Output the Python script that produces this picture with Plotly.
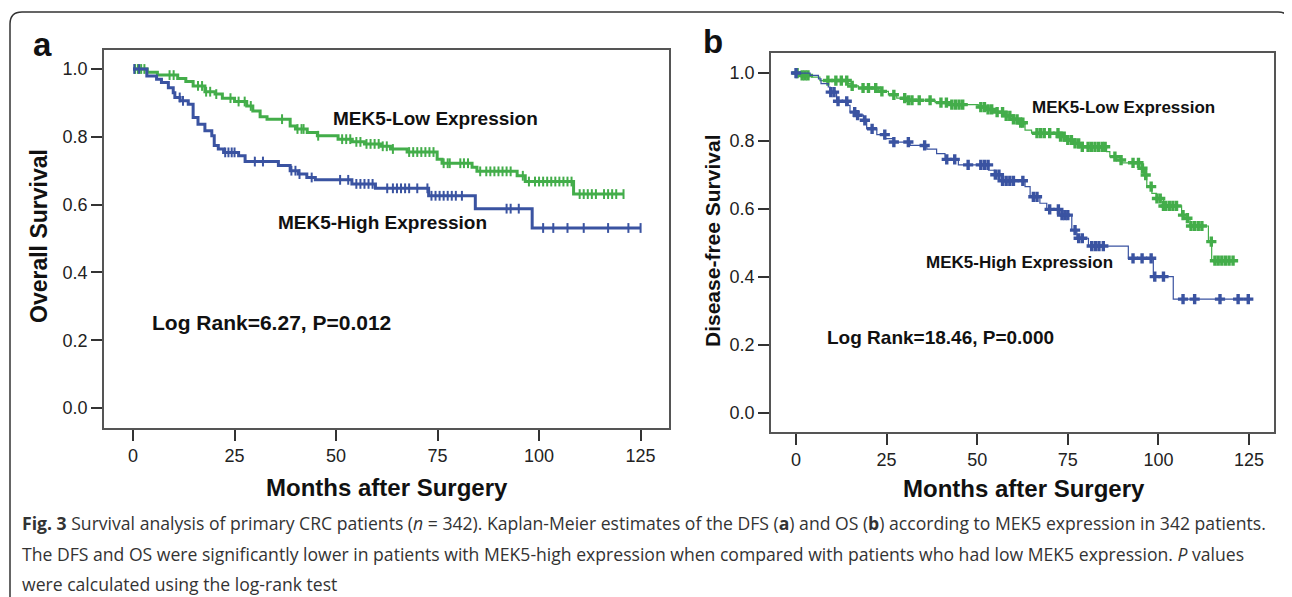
import numpy as np
import plotly.graph_objects as go

# ---------------- data ----------------
# Panel a: Overall survival
a_low_t = [0, 3.5, 6, 11, 13, 14.8, 17.7, 20.2, 22, 25, 28, 29.5, 31.3, 33, 38.7, 40, 42.9, 45.4,
           50.5, 54, 57, 61, 63.4, 67.5, 74.9, 76.1, 83.5, 84.7, 94.6, 96.6, 108.5]
a_low_s = [1.0, 0.99, 0.982, 0.972, 0.963, 0.95, 0.933, 0.926, 0.914, 0.904, 0.891, 0.876, 0.859, 0.852,
           0.832, 0.823, 0.813, 0.803, 0.793, 0.785, 0.779, 0.772, 0.764, 0.755, 0.734, 0.722, 0.71, 0.698,
           0.685, 0.668, 0.631]
a_low_c = [0.5, 1.2, 2, 2.8, 9, 10, 16, 17, 18, 19, 20.5, 24, 26, 27.5, 29, 36.7, 40.5, 41.5, 42, 45.6,
           51.5, 52.5, 53.5, 55, 56, 57.5, 58.5, 59.5, 60.5, 61.5, 62.5, 64, 68, 69, 70, 71, 72, 73, 74,
           76.5, 77.5, 78, 80.6, 81.5, 82.5, 85.5, 87, 88, 89, 90, 91, 92, 93, 96, 97.5, 99, 100, 101, 102,
           103, 104, 105, 106, 107, 108, 110, 111, 112, 113, 114, 116, 117, 118, 119, 120.8]

a_high_t = [0, 3.4, 5.8, 7, 8.7, 9.9, 10.3, 11.6, 13.6, 14.8, 16, 17.7, 19.4, 20, 21, 22.3, 26, 27.6,
            35.8, 38.7, 40.7, 42.8, 44.9, 53.9, 59.7, 72.8, 84.3, 98.3]
a_high_s = [1.0, 0.979, 0.97, 0.96, 0.945, 0.93, 0.916, 0.906, 0.896, 0.857, 0.837, 0.818, 0.803, 0.774,
            0.764, 0.754, 0.744, 0.727, 0.715, 0.70, 0.69, 0.68, 0.673, 0.661, 0.648, 0.626, 0.588, 0.531]
a_high_c = [0.3, 1.5, 11.5, 12.3, 22.7, 23.5, 24.3, 25, 30, 32, 39, 40, 41, 44, 51, 53, 55, 56, 57, 58,
            59, 62.6, 64, 65, 66, 67, 68, 70, 72.5, 73.5, 74.5, 75.5, 76.5, 77.5, 78.5, 79.5, 81, 92, 93,
            95, 101, 103.5, 107, 111, 117, 122, 125]

# Panel b: Disease-free survival
b_low_t = [0, 1.5, 4.3, 6.6, 14.4, 15.3, 17.2, 22.7, 25.5, 27.8, 30.1, 38.4, 42, 50.3, 52.1, 54.9,
           57.5, 60, 61.8, 63.2, 65, 72.4, 74.7, 76.6, 78.8, 85.7, 86.6, 88.5, 89.9, 94.9, 95.8, 96.8,
           98.2, 99.5, 101.4, 106.4, 107.8, 108.7, 113.8, 114.7]
b_low_s = [1.0, 0.993, 0.988, 0.978, 0.969, 0.962, 0.956, 0.946, 0.936, 0.926, 0.92, 0.913, 0.907, 0.9,
           0.893, 0.885, 0.874, 0.864, 0.854, 0.832, 0.823, 0.813, 0.803, 0.793, 0.783, 0.769, 0.754,
           0.744, 0.736, 0.72, 0.70, 0.666, 0.646, 0.631, 0.609, 0.582, 0.573, 0.55, 0.504, 0.448]
b_low_c = [0.3, 1.7, 2.5, 3.3, 8.8, 11, 12.5, 14, 15.5, 18.5, 20, 22, 23.7, 27, 30, 31, 32, 34, 37, 40,
           41.5, 43, 44, 45, 46, 51, 52, 53, 54, 55.5, 57, 58, 59, 60, 61, 62, 62.6, 66.5, 67.5, 68.5,
           70, 72.3, 73, 74, 75, 76, 77, 78, 79, 80.6, 81.5, 82.5, 83.5, 84.5, 85.3, 88, 89.7, 93, 94.5,
           95.6, 96.5, 98, 99.6, 100.5, 101.4, 102, 103, 104, 105, 106.8, 108, 109, 110, 111, 112,
           114.6, 115.6, 116.5, 117.5, 118.5, 119.5, 120.6]

b_high_t = [0, 3.9, 6.2, 6.9, 8.9, 9.4, 11.2, 14.4, 14.9, 16.3, 18.6, 19.5, 22.3, 24.6, 26.9, 31.5,
            36.1, 38.8, 41.1, 44.8, 53.1, 54.9, 56.8, 63.2, 64.6, 67.3, 69.2, 72.8, 76.1, 77.5, 80.7,
            91.7, 98.6, 104.1]
b_high_s = [1.0, 0.993, 0.983, 0.969, 0.959, 0.944, 0.917, 0.905, 0.885, 0.876, 0.861, 0.836, 0.819,
            0.807, 0.797, 0.787, 0.776, 0.763, 0.746, 0.73, 0.714, 0.701, 0.683, 0.666, 0.636, 0.617,
            0.599, 0.582, 0.538, 0.514, 0.491, 0.455, 0.401, 0.335]
b_high_c = [0, 9.6, 10.5, 11.6, 14, 16.2, 17, 19, 21, 24.5, 27, 31, 35.5, 41.6, 43.8, 47.5, 51, 52, 53,
            55, 56, 57, 58, 59, 60, 62.6, 65.5, 66.5, 70, 72.4, 73.4, 74.2, 75, 77, 78, 79, 81.6, 82.6,
            83.6, 84.8, 93, 95.5, 98, 99, 101.4, 106.8, 110, 117, 122, 124.8]

x_ticks = [0, 25, 50, 75, 100, 125]
y_ticks = [0.0, 0.2, 0.4, 0.6, 0.8, 1.0]
y_tick_labels = ["0.0", "0.2", "0.4", "0.6", "0.8", "1.0"]

GREEN = "#43ad4a"
BLUE = "#3a53a1"
OFF = 8                      # page body margin of the browser
W, H = 1292 - OFF, 597 - OFF


def px(x):
    return (x - OFF) / W


def py(y):
    return 1 - (y - OFF) / H


def step_value(t, s, c):
    t = np.asarray(t, float)
    s = np.asarray(s, float)
    idx = np.searchsorted(t, np.asarray(c, float), side="right") - 1
    return s[np.clip(idx, 0, len(s) - 1)]


fig = go.Figure()


def add_curve(t, s, c, color, xa, ya, lw, msym, msize, mline):
    end = max(max(c), t[-1])
    fig.add_trace(go.Scatter(x=list(t) + [end], y=list(s) + [s[-1]], mode="lines",
                             line=dict(color=color, width=lw, shape="hv"),
                             xaxis=xa, yaxis=ya, hoverinfo="skip"))
    fig.add_trace(go.Scatter(x=c, y=step_value(t, s, c), mode="markers",
                             marker=dict(symbol=msym, size=msize, color=color,
                                         line=dict(color=color, width=mline)),
                             xaxis=xa, yaxis=ya, hoverinfo="skip"))


add_curve(a_low_t, a_low_s, a_low_c, GREEN, "x", "y", 3, "line-ns", 7, 2)
add_curve(a_high_t, a_high_s, a_high_c, BLUE, "x", "y", 3, "line-ns", 7, 2)
add_curve(b_low_t, b_low_s, b_low_c, GREEN, "x2", "y2", 1.2, "cross", 8.5, 0)
add_curve(b_high_t, b_high_s, b_high_c, BLUE, "x2", "y2", 1.2, "cross", 8.5, 0)

TICKFONT = dict(family="Liberation Sans, Arial", size=18, color="#222")
axis_common = dict(showline=True, mirror=True, linecolor="#555", linewidth=1.5, ticks="outside",
                   ticklen=11, tickwidth=1.5, tickcolor="#333", showgrid=False, zeroline=False,
                   tickfont=TICKFONT)

fig.update_layout(
    width=W, height=H, margin=dict(l=0, r=0, t=0, b=0),
    paper_bgcolor="white", plot_bgcolor="white", showlegend=False,
    xaxis=dict(domain=[px(104), px(669)], range=[-7.15, 132], anchor="y",
               tickvals=x_ticks, **axis_common),
    yaxis=dict(domain=[py(428), py(50)], range=[-0.059, 1.056], anchor="x",
               tickvals=y_ticks, ticktext=y_tick_labels, **axis_common),
    xaxis2=dict(domain=[px(771), px(1274)], range=[-6.9, 131.9], anchor="y2",
                tickvals=x_ticks, **axis_common),
    yaxis2=dict(domain=[py(432), py(53)], range=[-0.056, 1.059], anchor="x2",
                tickvals=y_ticks, ticktext=y_tick_labels, **axis_common),
)

BOLD = "Liberation Sans, Arial"
ann = []


def note(x, y, text, size, xref="paper", yref="paper", angle=0, family=BOLD, xanchor="center"):
    ann.append(dict(x=x, y=y, xref=xref, yref=yref, text=text, textangle=angle,
                    font=dict(family=family, size=size, color="#111"), showarrow=False,
                    xanchor=xanchor, yanchor="middle"))


# curve labels
note(74.5, 0.853, "<b>MEK5-Low Expression</b>", 19, "x", "y")
note(61.4, 0.547, "<b>MEK5-High Expression</b>", 19, "x", "y")
note(34.1, 0.253, "<b>Log Rank=6.27, P=0.012</b>", 21, "x", "y")
note(90.5, 0.90, "<b>MEK5-Low Expression</b>", 17, "x2", "y2")
note(61.8, 0.444, "<b>MEK5-High Expression</b>", 17, "x2", "y2")
note(39.9, 0.221, "<b>Log Rank=18.46, P=0.000</b>", 19, "x2", "y2")
# axis titles
note(px(387), py(487), "<b>Months after Surgery</b>", 24)
note(px(1024), py(488), "<b>Months after Surgery</b>", 24)
note(px(39), py(236), "<b>Overall Survival</b>", 23, angle=-90)
note(px(712), py(241), "<b>Disease-free Survival</b>", 21, angle=-90)
# panel letters
note(px(42), py(44), "<b>a</b>", 33)
note(px(713), py(42), "<b>b</b>", 33)
# caption
cap_lines = [
    "<b>Fig. 3</b> Survival analysis of primary CRC patients (<i>n</i> = 342). Kaplan-Meier estimates of the DFS (<b>a</b>) and OS (<b>b</b>) according to MEK5 expression in 342 patients.",
    "The DFS and OS were significantly lower in patients with MEK5-high expression when compared with patients who had low MEK5 expression. <i>P</i> values",
    "were calculated using the log-rank test",
]
for line, yy in zip(cap_lines, [523, 554, 584]):
    ann.append(dict(x=px(20), y=py(yy), xref="paper", yref="paper", text=line, xanchor="left",
                    yanchor="middle", font=dict(family="Open Sans, Noto Sans, Arial", size=17.6,
                                                color="#333"), showarrow=False))
fig.update_layout(annotations=ann)

# outer rounded frame
r = 12
x0, x1, y0, y1 = 10, 1290, 12, 620
path = (f"M {px(x0)},{py(y1)} L {px(x0)},{py(y0 + r)} Q {px(x0)},{py(y0)} {px(x0 + r)},{py(y0)} "
        f"L {px(x1 - r)},{py(y0)} Q {px(x1)},{py(y0)} {px(x1)},{py(y0 + r)} L {px(x1)},{py(y1)}")
fig.add_shape(type="path", path=path, xref="paper", yref="paper",
              line=dict(color="#333", width=1.5))

fig.write_html("out.html")
